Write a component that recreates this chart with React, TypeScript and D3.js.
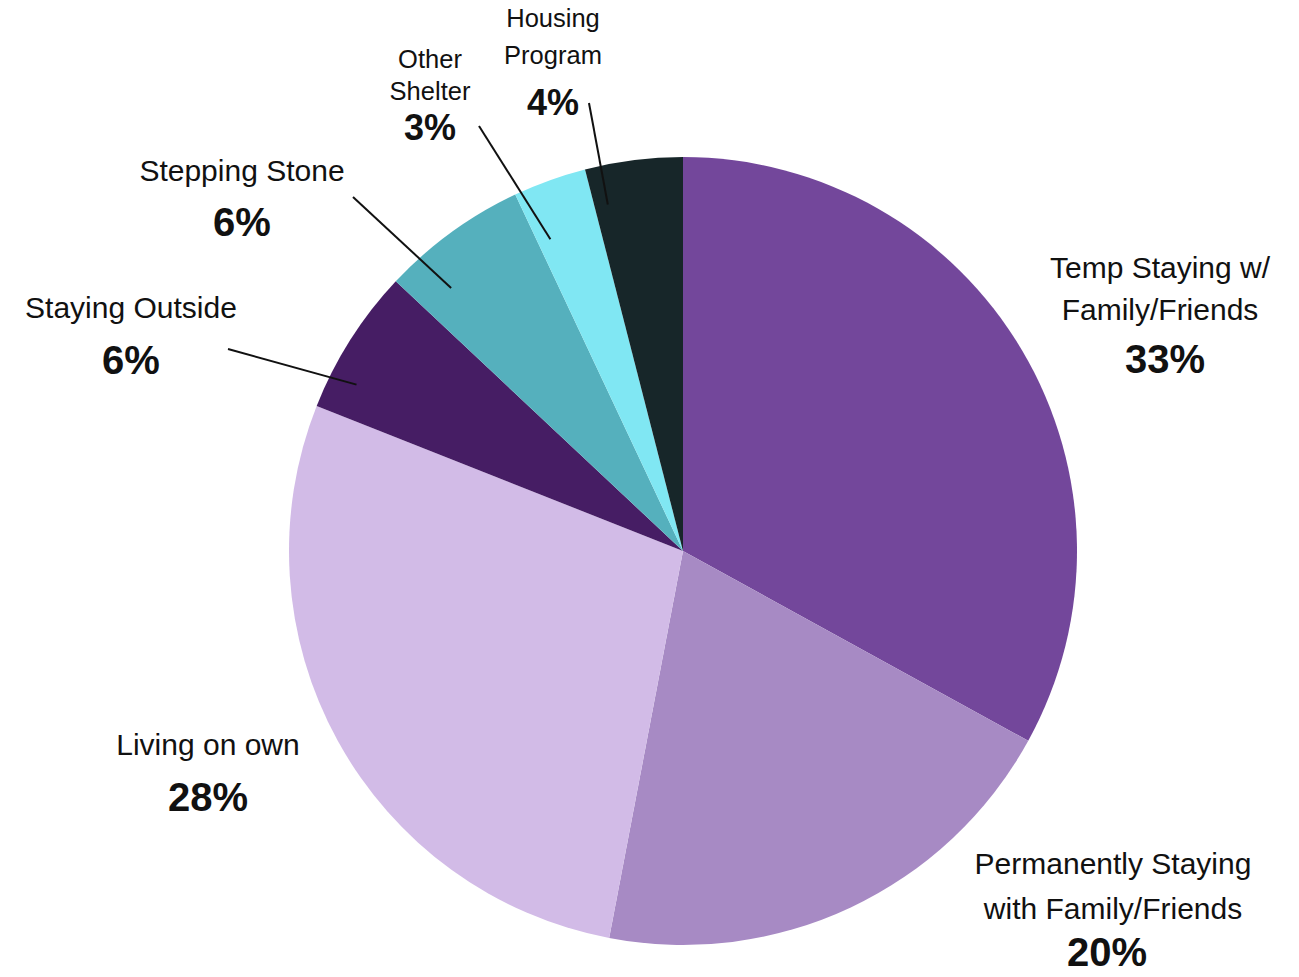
import React, { useEffect, useRef } from 'react';
import * as d3 from 'd3';

const categories = [
  'Temp Staying w/ Family/Friends',
  'Permanently Staying with Family/Friends',
  'Living on own',
  'Staying Outside',
  'Stepping Stone',
  'Other Shelter',
  'Housing Program',
];
const shares = [33, 20, 28, 6, 6, 3, 4];
const colors = ['#73479b', '#a78ac4', '#d2bbe7', '#461d64', '#55b0bd', '#80e7f3', '#172629'];

// label text lines per slice
const labelLines = [
  ['Temp Staying w/', 'Family/Friends'],
  ['Permanently Staying', 'with Family/Friends'],
  ['Living on own'],
  ['Staying Outside'],
  ['Stepping Stone'],
  ['Other', 'Shelter'],
  ['Housing', 'Program'],
];

const W = 1299;
const H = 977;

// label placement: x, y of first baseline, line gap, pct gap, font sizes, leader line
interface LabelLayout {
  x: number;
  y: number;
  gap: number;
  pctGap: number;
  size: number;
  pctSize: number;
  pctX?: number;
  line?: { from: [number, number]; frac: number; r: number };
}
const layout: LabelLayout[] = [
  { x: 1160, y: 278, gap: 42, pctGap: 53, size: 30, pctSize: 40, pctX: 1165 },
  { x: 1113, y: 874, gap: 45, pctGap: 47, size: 30, pctSize: 40, pctX: 1107 },
  { x: 208, y: 755, gap: 0, pctGap: 56, size: 30, pctSize: 40 },
  { x: 131, y: 318, gap: 0, pctGap: 56, size: 30, pctSize: 40, line: { from: [228, 349], frac: 0.25, r: 0.93 } },
  { x: 242, y: 181, gap: 0, pctGap: 55, size: 30, pctSize: 40, line: { from: [353, 197], frac: 0.25, r: 0.89 } },
  { x: 430, y: 68, gap: 32, pctGap: 40, size: 25.5, pctSize: 36, line: { from: [479, 126], frac: 0.2, r: 0.86 } },
  { x: 553, y: 27, gap: 37, pctGap: 51, size: 25.5, pctSize: 36, line: { from: [589, 103], frac: 0.15, r: 0.9 } },
];

const App: React.FC = () => {
  const ref = useRef<SVGSVGElement | null>(null);

  useEffect(() => {
    const svg = d3.select(ref.current);
    svg.selectAll('*').remove();

    const cx = 683;
    const cy = 551;
    const R = 394;

    const pie = d3.pie<number>().sort(null).value(d => d);
    const arcs = pie(shares);
    const arc = d3.arc<d3.PieArcDatum<number>>().innerRadius(0).outerRadius(R);

    const g = svg.append('g').attr('transform', `translate(${cx},${cy})`);
    g.selectAll('path')
      .data(arcs)
      .join('path')
      .attr('d', arc)
      .attr('fill', (_, i) => colors[i]);

    // leader lines
    arcs.forEach((a, i) => {
      const l = layout[i].line;
      if (!l) return;
      const ang = a.startAngle + (a.endAngle - a.startAngle) * l.frac;
      const x2 = cx + Math.sin(ang) * R * l.r;
      const y2 = cy - Math.cos(ang) * R * l.r;
      svg.append('line')
        .attr('x1', l.from[0])
        .attr('y1', l.from[1])
        .attr('x2', x2)
        .attr('y2', y2)
        .attr('stroke', '#111')
        .attr('stroke-width', 2);
    });

    // labels
    categories.forEach((c, i) => {
      const lay = layout[i];
      const t = svg.append('g')
        .attr('font-family', '"Liberation Sans", Arial, Helvetica, sans-serif')
        .attr('fill', '#111')
        .attr('text-anchor', 'middle');
      labelLines[i].forEach((ln, j) => {
        t.append('text')
          .attr('x', lay.x)
          .attr('y', lay.y + j * lay.gap)
          .attr('font-size', lay.size)
          .text(ln);
      });
      const lastY = lay.y + (labelLines[i].length - 1) * lay.gap;
      t.append('text')
        .attr('x', lay.pctX ?? lay.x)
        .attr('y', lastY + lay.pctGap)
        .attr('font-size', lay.pctSize)
        .attr('font-weight', 'bold')
        .text(`${shares[i]}%`);
    });
  }, []);

  return (
    <svg
      ref={ref}
      width={W}
      height={H}
      style={{ position: 'absolute', left: 0, top: 0, background: '#fff' }}
    ></svg>
  );
};

export default App;
